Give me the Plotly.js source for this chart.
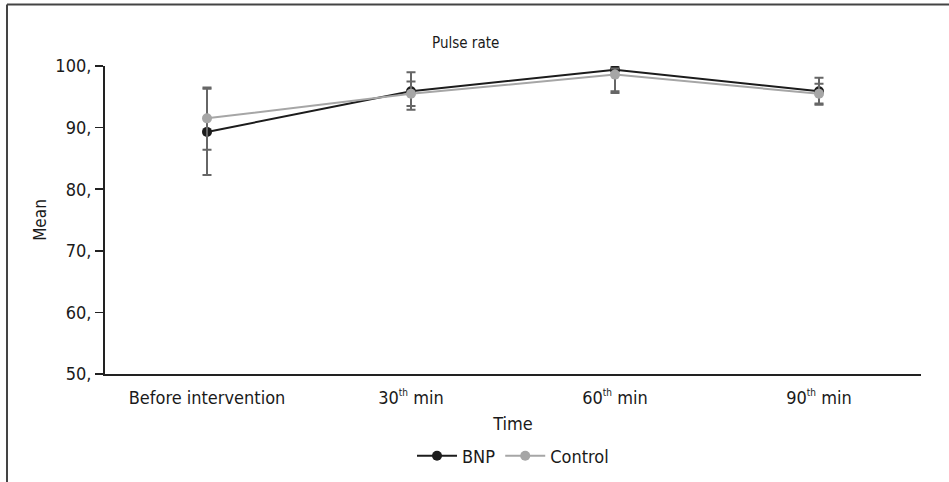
<!DOCTYPE html>
<html>
<head>
<meta charset="utf-8">
<script src="https://cdn.plot.ly/plotly-3.0.1.min.js"></script>
<style>
  html, body { margin: 0; padding: 0; background: #fff; }
  #chart { width: 949px; height: 482px; }
</style>
</head>
<body>
<div id="chart"></div>
<script>
// Data
const categories = ["Before intervention", "30<sup>th</sup> min", "60<sup>th</sup> min", "90<sup>th</sup> min"];
const bnpMean = [89.3, 95.9, 99.4, 95.9];
const bnpErrUp = [7.0, 3.1, 0.6, 2.2];
const bnpErrDown = [7.0, 3.0, 3.8, 2.2];
const controlMean = [91.5, 95.5, 98.6, 95.5];
const controlErrUp = [5.0, 2.0, 1.0, 1.6];
const controlErrDown = [5.1, 2.0, 2.7, 1.6];
const yTickVals = [50, 60, 70, 80, 90, 100];
const yTickText = ["50,", "60,", "70,", "80,", "90,", "100,"];

const FONT = "'Liberation Sans Narrow', 'DejaVu Sans Condensed', 'Liberation Sans', Arial, sans-serif";
const xIdx = categories.map((c, i) => i);
const tickLabels = categories.map(c => c.replace("<sup>th</sup>", "<sup><span style='font-size:10px'>th</span></sup>"));

const traces = [
  {
    name: "BNP",
    x: xIdx, y: bnpMean,
    type: "scatter", mode: "lines+markers",
    line: { color: "#1c1c1c", width: 2 },
    marker: { color: "#1c1c1c", size: 10 },
    error_y: { type: "data", symmetric: false, array: bnpErrUp, arrayminus: bnpErrDown,
               color: "#666666", thickness: 2, width: 4.5 }
  },
  {
    name: "Control",
    x: xIdx, y: controlMean,
    type: "scatter", mode: "lines+markers",
    line: { color: "#a6a6a6", width: 2 },
    marker: { color: "#a6a6a6", size: 10 },
    error_y: { type: "data", symmetric: false, array: controlErrUp, arrayminus: controlErrDown,
               color: "#666666", thickness: 2, width: 4.5 }
  }
];

const layout = {
  width: 949, height: 482,
  paper_bgcolor: "#ffffff", plot_bgcolor: "#ffffff",
  margin: { l: 105, r: 28, t: 66, b: 108 },
  font: { family: FONT, color: "#1a1a1a", size: 18 },
  title: { text: "Pulse rate", x: 0.442, xref: "paper", xanchor: "center",
           y: 0.912, yref: "container", yanchor: "middle", automargin: false,
           font: { family: FONT, size: 15, color: "#1a1a1a" } },
  xaxis: {
    range: [-0.5, 3.5], automargin: false,
    tickmode: "array", tickvals: xIdx, ticktext: tickLabels,
    showgrid: false, zeroline: false,
    showline: true, linecolor: "#222222", linewidth: 2,
    ticks: "", ticklabelstandoff: 6,
    tickfont: { family: FONT, size: 18, color: "#1a1a1a" },
    title: { text: "Time", font: { family: FONT, size: 18, color: "#1a1a1a" }, standoff: 11 },
    fixedrange: true
  },
  yaxis: {
    range: [50, 100], automargin: false,
    tickmode: "array", tickvals: yTickVals, ticktext: yTickText,
    showgrid: false, zeroline: false,
    showline: true, linecolor: "#222222", linewidth: 2,
    ticks: "outside", ticklen: 8, tickwidth: 1.5, tickcolor: "#222222",
    tickfont: { family: FONT, size: 18, color: "#1a1a1a" },
    title: { text: "Mean", font: { family: FONT, size: 17, color: "#1a1a1a" }, standoff: 4 },
    fixedrange: true
  },
  showlegend: true,
  legend: {
    orientation: "h", x: 0.5, xanchor: "center", xref: "paper",
    y: 0.054, yref: "container", yanchor: "middle",
    font: { family: FONT, size: 18, color: "#1a1a1a" },
    bgcolor: "rgba(0,0,0,0)", itemwidth: 40, tracegroupgap: 0
  },
  shapes: [
    { type: "line", xref: "paper", yref: "paper", x0: -0.1201, x1: 1.05, y0: 1.1997, y1: 1.1997,
      line: { color: "#444444", width: 2 } },
    { type: "line", xref: "paper", yref: "paper", x0: -0.1201, x1: -0.1201, y0: 1.1997, y1: -0.40,
      line: { color: "#444444", width: 2 } }
  ]
};

Plotly.newPlot("chart", traces, layout, { displayModeBar: false, staticPlot: true });
</script>
</body>
</html>
